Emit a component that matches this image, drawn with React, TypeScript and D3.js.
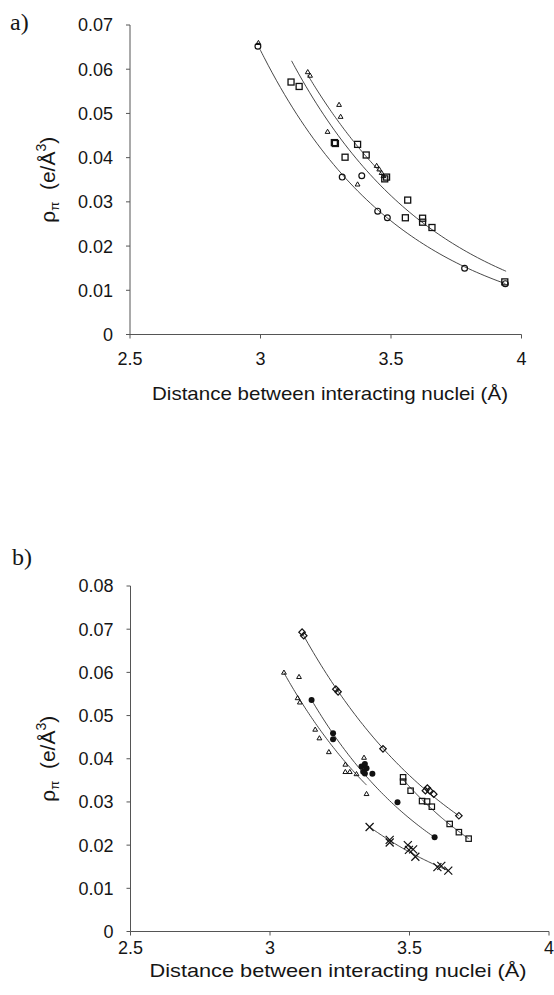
import React from "react";
import * as d3 from "d3";

// ---------- Panel a data ----------
const aCircleX = [2.99, 3.313, 3.388, 3.449, 3.486, 3.782, 3.938];
const aCircleY = [0.0652, 0.0356, 0.0359, 0.0279, 0.0264, 0.015, 0.0115];
const aSquareX = [3.117, 3.148, 3.283, 3.287, 3.324, 3.372, 3.405, 3.476, 3.483, 3.564, 3.555, 3.621, 3.621, 3.657, 3.936];
const aSquareY = [0.0571, 0.0561, 0.0434, 0.0432, 0.0401, 0.043, 0.0406, 0.0352, 0.0356, 0.0304, 0.0264, 0.0263, 0.0254, 0.0242, 0.0119];
const aTriX = [2.992, 3.181, 3.19, 3.301, 3.307, 3.257, 3.372, 3.445, 3.455, 3.464, 3.471];
const aTriY = [0.0659, 0.0593, 0.0585, 0.0519, 0.0492, 0.0458, 0.0339, 0.0381, 0.0373, 0.0365, 0.0358];
// exponential trendlines: [xStart, xEnd], [yStart, yEnd]
const aFitX = [[2.998, 3.938], [3.119, 3.941], [3.181, 3.483]];
const aFitY = [[0.0645, 0.0115], [0.0619, 0.0143], [0.0587, 0.0353]];
const aYTicks = [0, 0.01, 0.02, 0.03, 0.04, 0.05, 0.06, 0.07];

// ---------- Panel b data ----------
const bDiamondX = [3.115, 3.121, 3.236, 3.244, 3.405, 3.557, 3.564, 3.572, 3.587, 3.677];
const bDiamondY = [0.0693, 0.0685, 0.0561, 0.0555, 0.0423, 0.0326, 0.0332, 0.0326, 0.0318, 0.0268];
const bSquareX = [3.477, 3.477, 3.504, 3.545, 3.563, 3.58, 3.644, 3.677, 3.712];
const bSquareY = [0.0357, 0.0347, 0.0326, 0.0302, 0.0301, 0.0289, 0.0249, 0.023, 0.0215];
const bDotX = [3.149, 3.226, 3.226, 3.328, 3.34, 3.346, 3.334, 3.34, 3.367, 3.457, 3.59];
const bDotY = [0.0536, 0.0459, 0.0445, 0.0382, 0.0388, 0.0378, 0.037, 0.0366, 0.0365, 0.0299, 0.0218];
const bTriX = [3.05, 3.104, 3.099, 3.107, 3.162, 3.177, 3.211, 3.27, 3.27, 3.286, 3.31, 3.337, 3.346];
const bTriY = [0.0599, 0.0589, 0.054, 0.053, 0.0467, 0.0447, 0.0415, 0.0386, 0.0369, 0.0369, 0.0364, 0.0402, 0.0318];
const bCrossX = [3.357, 3.429, 3.429, 3.494, 3.498, 3.513, 3.521, 3.6, 3.614, 3.639];
const bCrossY = [0.0242, 0.0212, 0.0206, 0.02, 0.0189, 0.019, 0.0173, 0.0149, 0.0152, 0.0141];
const bFitX = [[3.118, 3.677], [3.477, 3.712], [3.149, 3.59], [3.05, 3.346], [3.357, 3.639]];
const bFitY = [[0.0688, 0.0268], [0.0352, 0.0215], [0.0536, 0.0218], [0.0599, 0.0339], [0.0242, 0.0141]];
const bYTicks = [0, 0.01, 0.02, 0.03, 0.04, 0.05, 0.06, 0.07, 0.08];

const xTicks = [2.5, 3, 3.5, 4];
const xTitle = "Distance between interacting nuclei (\u00C5)";

const SANS = "'Liberation Sans', Arial, Helvetica, sans-serif";
const SERIF = "'Liberation Serif', 'Times New Roman', serif";
const INK = "#151515";
const AXIS = "#555";

type Scale = d3.ScaleLinear<number, number>;

function zip(xs: number[], ys: number[]) {
  return xs.map((x, i) => [x, ys[i]] as [number, number]);
}

function Fit({ xr, yr, x, y }: { xr: number[]; yr: number[]; x: Scale; y: Scale }) {
  const n = 60;
  const pts = d3.range(n + 1).map((i) => {
    const t = i / n;
    const xv = xr[0] + t * (xr[1] - xr[0]);
    const yv = yr[0] * Math.pow(yr[1] / yr[0], t);
    return [xv, yv] as [number, number];
  });
  const line = d3
    .line<[number, number]>()
    .x((d) => x(d[0]))
    .y((d) => y(d[1]))
    .curve(d3.curveBasis);
  return <path d={line(pts) || ""} fill="none" stroke="#333" strokeWidth={0.9} />;
}

function Axes({
  x,
  y,
  yTicks,
  xLabelDy,
  titleX,
  titleY,
  titleLen,
  ylabX,
}: {
  x: Scale;
  y: Scale;
  yTicks: number[];
  xLabelDy: number;
  titleX: number;
  titleY: number;
  titleLen: number;
  ylabX: number;
}) {
  const [x0, x1] = x.range();
  const [yb, yt] = y.range();
  const ylabY = (yb + yt) / 2;
  return (
    <g fontFamily={SANS} fill={INK}>
      <line x1={x0} x2={x0} y1={yt} y2={yb} stroke={AXIS} strokeWidth={1} />
      <line x1={x0} x2={x1} y1={yb} y2={yb} stroke={AXIS} strokeWidth={1} />
      {yTicks.map((t) => (
        <g key={"y" + t}>
          <line x1={x0 - 4} x2={x0} y1={y(t)} y2={y(t)} stroke={AXIS} strokeWidth={1} />
          <text x={x0 - 17} y={y(t)} dy="0.36em" textAnchor="end" fontSize={18}>
            {t === 0 ? "0" : d3.format(".2f")(t)}
          </text>
        </g>
      ))}
      {xTicks.map((t) => (
        <g key={"x" + t}>
          <line x1={x(t)} x2={x(t)} y1={yb} y2={yb + 4} stroke={AXIS} strokeWidth={1} />
          <text x={x(t)} y={yb + xLabelDy} textAnchor="middle" fontSize={18}>
            {String(t)}
          </text>
        </g>
      ))}
      <text
        x={titleX}
        y={titleY}
        textAnchor="middle"
        fontSize={19}
        textLength={titleLen}
        lengthAdjust="spacingAndGlyphs"
      >
        {xTitle}
      </text>
      <text transform={`translate(${ylabX},${ylabY}) rotate(-90)`} textAnchor="middle" fontSize={21}>
        <tspan>ρ</tspan>
        <tspan fontSize={13} dy={4}>π</tspan>
        <tspan dy={-4}>{"\u00A0 (e/\u00C5"}</tspan>
        <tspan fontSize={14} dy={-9}>3</tspan>
        <tspan dy={9}>)</tspan>
      </text>
    </g>
  );
}

export default function App() {
  // Panel a scales
  const xa = d3.scaleLinear().domain([2.5, 4]).range([130, 521.5]);
  const ya = d3.scaleLinear().domain([0, 0.07]).range([334.5, 25]);
  // Panel b scales
  const xb = d3.scaleLinear().domain([2.5, 4]).range([130.5, 549]);
  const yb = d3.scaleLinear().domain([0, 0.08]).range([931.5, 586]);

  const stroke = { fill: "none", stroke: "#111" };

  return (
    <svg
      width={554}
      height={995}
      style={{ position: "absolute", left: 0, top: 0, background: "#fff" }}
    >
      <rect width={554} height={995} fill="#fff" />
      <text x={10} y={30} fontFamily={SERIF} fontSize={24} fill={INK}>
        a)
      </text>
      <text x={12} y={565} fontFamily={SERIF} fontSize={24} fill={INK}>
        b)
      </text>

      {/* Panel a */}
      <Axes x={xa} y={ya} yTicks={aYTicks} xLabelDy={30.5} titleX={330} titleY={400} titleLen={356} ylabX={55} />
      {aFitX.map((xr, i) => (
        <Fit key={"fa" + i} xr={xr} yr={aFitY[i]} x={xa} y={ya} />
      ))}
      {zip(aCircleX, aCircleY).map(([x, y], i) => (
        <circle key={"ac" + i} cx={xa(x)} cy={ya(y)} r={2.9} {...stroke} strokeWidth={1.2} />
      ))}
      {zip(aSquareX, aSquareY).map(([x, y], i) => (
        <rect key={"as" + i} x={xa(x) - 3} y={ya(y) - 3} width={6} height={6} {...stroke} strokeWidth={1.3} />
      ))}
      {zip(aTriX, aTriY).map(([x, y], i) => (
        <path
          key={"at" + i}
          d={d3.symbol(d3.symbolTriangle, 10)() || ""}
          transform={`translate(${xa(x)},${ya(y)})`}
          {...stroke}
          strokeWidth={1}
        />
      ))}

      {/* Panel b */}
      <Axes x={xb} y={yb} yTicks={bYTicks} xLabelDy={22} titleX={338} titleY={977} titleLen={377} ylabX={55} />
      {bFitX.map((xr, i) => (
        <Fit key={"fb" + i} xr={xr} yr={bFitY[i]} x={xb} y={yb} />
      ))}
      {zip(bDiamondX, bDiamondY).map(([x, y], i) => (
        <rect
          key={"bd" + i}
          x={-2.3}
          y={-2.3}
          width={4.6}
          height={4.6}
          transform={`translate(${xb(x)},${yb(y)}) rotate(45)`}
          {...stroke}
          strokeWidth={1.2}
        />
      ))}
      {zip(bSquareX, bSquareY).map(([x, y], i) => (
        <rect key={"bs" + i} x={xb(x) - 2.7} y={yb(y) - 2.7} width={5.4} height={5.4} {...stroke} strokeWidth={1.2} />
      ))}
      {zip(bDotX, bDotY).map(([x, y], i) => (
        <circle key={"bo" + i} cx={xb(x)} cy={yb(y)} r={3} fill="#111" />
      ))}
      {zip(bTriX, bTriY).map(([x, y], i) => (
        <path
          key={"bt" + i}
          d={d3.symbol(d3.symbolTriangle, 10)() || ""}
          transform={`translate(${xb(x)},${yb(y)})`}
          {...stroke}
          strokeWidth={1}
        />
      ))}
      {zip(bCrossX, bCrossY).map(([x, y], i) => (
        <path
          key={"bx" + i}
          d="M-4,-4L4,4M-4,4L4,-4"
          transform={`translate(${xb(x)},${yb(y)})`}
          {...stroke}
          strokeWidth={1.2}
        />
      ))}
    </svg>
  );
}
